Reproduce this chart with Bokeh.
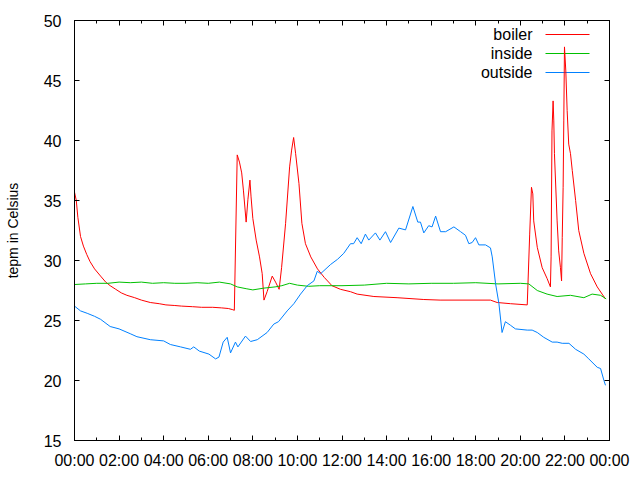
from bokeh.plotting import figure
from bokeh.models import (FixedTicker, LinearAxis, Range1d, Label, Arrow)
from bokeh.embed import file_html
from bokeh.resources import INLINE

# ---------------- data ----------------
x_tick_hours = [0, 2, 4, 6, 8, 10, 12, 14, 16, 18, 20, 22, 24]
x_tick_labels = ["00:00", "02:00", "04:00", "06:00", "08:00", "10:00", "12:00",
                 "14:00", "16:00", "18:00", "20:00", "22:00", "00:00"]
y_ticks = [15, 20, 25, 30, 35, 40, 45, 50]

boiler_h = [0.0, 0.08, 0.15, 0.27, 0.4, 0.55, 0.7, 0.9, 1.17, 1.4, 1.6, 1.85, 2.1, 2.35,
            2.7, 3.0, 3.4, 3.8, 4.1, 4.5, 4.8, 5.3, 5.7, 6.2, 6.6, 6.9, 7.1, 7.17,
            7.3, 7.4, 7.5, 7.58, 7.7, 7.78, 7.87, 7.92, 8.0, 8.15, 8.3, 8.42, 8.5,
            8.64, 8.87, 9.02, 9.18, 9.29, 9.47, 9.65, 9.74, 9.83, 9.92, 10.07, 10.2,
            10.36, 10.6, 10.9, 11.2, 11.55, 11.93, 12.38, 12.68, 13.43, 14.47, 15.67,
            16.4, 18.66, 18.96, 19.56, 20.31, 20.42, 20.5, 20.56, 20.6, 20.76, 20.98,
            21.2, 21.35, 21.38, 21.42, 21.47, 21.5, 21.53, 21.65, 21.72, 21.8, 21.85,
            21.88, 21.92, 21.95, 21.98, 22.04, 22.1, 22.17, 22.25, 22.33, 22.48, 22.62,
            22.85, 23.15, 23.45, 23.67, 23.82]
boiler_t = [35.7, 35.0, 33.6, 32.0, 31.2, 30.5, 29.9, 29.3, 28.7, 28.2, 27.9, 27.6, 27.3, 27.1,
            26.9, 26.7, 26.5, 26.4, 26.3, 26.25, 26.2, 26.15, 26.1, 26.1, 26.05, 26.0, 25.9, 25.85,
            38.8, 38.2, 37.3, 35.8, 33.2, 35.1, 36.7, 35.3, 33.5, 31.7, 30.3, 28.9, 26.7,
            27.4, 28.7, 28.2, 27.6, 29.4, 33.1, 37.8, 39.2, 40.25, 38.9, 36.4, 33.1,
            31.4, 30.3, 29.3, 28.6, 27.9, 27.6, 27.4, 27.2, 27.0, 26.9, 26.75,
            26.7, 26.7, 26.5, 26.4, 26.3, 32.2, 36.1, 35.55, 33.3, 31.1, 29.4,
            28.5, 27.8, 30.3, 40.8, 43.3, 41.7, 38.9, 33.3, 30.8, 29.4, 28.3,
            31.9, 36.1, 41.7, 47.8, 45.8, 42.5, 39.7, 38.9, 37.5, 35.0, 32.5,
            30.6, 28.9, 27.8, 27.2, 26.8]

inside_h = [0, 0.5, 1.0, 1.5, 2.0, 2.5, 3.0, 3.5, 4.0, 4.5, 5.0, 5.5, 6.0, 6.5, 7.0, 7.3,
            7.7, 8.0, 8.5, 9.0, 9.3, 9.65, 10.0, 10.5, 11.0, 12.0, 13.0, 14.0, 15.0,
            16.0, 17.0, 18.0, 19.0, 20.0, 20.38, 20.76, 21.2, 21.65, 22.25, 22.85,
            23.22, 23.6, 23.85]
inside_t = [28.0, 28.05, 28.1, 28.1, 28.2, 28.15, 28.2, 28.1, 28.15, 28.1, 28.1, 28.15, 28.1,
            28.2, 28.05, 27.8, 27.65, 27.55, 27.7, 27.8, 27.9, 28.1, 27.95, 27.85, 27.9,
            27.9, 27.95, 28.1, 28.05, 28.1, 28.1, 28.15, 28.05, 28.1, 28.05, 27.5, 27.2,
            27.0, 27.1, 26.9, 27.2, 27.1, 26.8]

outside_h = [0, 0.27, 0.57, 0.9, 1.17, 1.6, 2.0, 2.5, 2.8, 3.4, 4.0, 4.3, 4.76, 5.2, 5.35,
             5.6, 6.03, 6.33, 6.48, 6.67, 6.85, 7.0, 7.22, 7.33, 7.67, 7.9, 8.2, 8.64,
             8.94, 9.15, 9.54, 9.84, 10.14, 10.44, 10.74, 10.89, 11.04, 11.49, 11.8,
             12.08, 12.38, 12.52, 12.68, 12.86, 13.05, 13.2, 13.5, 13.7, 13.95, 14.18,
             14.55, 14.85, 15.18, 15.4, 15.52, 15.67, 15.89, 16.04, 16.2, 16.42, 16.65,
             17.02, 17.32, 17.54, 17.69, 17.84, 17.99, 18.14, 18.44, 18.66, 18.74,
             18.89, 19.04, 19.18, 19.33, 19.56, 19.78, 20.31, 20.53, 20.76, 21.05,
             21.43, 21.65, 21.88, 22.18, 22.48, 22.85, 23.07, 23.45, 23.6, 23.75, 23.82]
outside_t = [26.2, 25.8, 25.6, 25.35, 25.1, 24.5, 24.3, 23.9, 23.65, 23.4, 23.3, 23.0, 22.8,
             22.6, 22.8, 22.45, 22.2, 21.8, 21.95, 23.2, 23.6, 22.3, 23.2, 22.8, 23.7,
             23.25, 23.4, 24.0, 24.7, 24.9, 25.8, 26.4, 27.2, 27.9, 28.3, 29.1, 28.9,
             29.67, 30.1, 30.6, 31.4, 31.4, 31.9, 31.4, 32.2, 31.7, 32.3, 31.7, 32.4,
             31.5, 32.7, 32.55, 34.5, 33.2, 33.2, 32.3, 32.9, 32.8, 33.7, 32.4, 32.4,
             32.8, 32.4, 32.1, 31.4, 31.5, 31.9, 31.3, 31.3, 31.05, 30.3, 28.06, 26.4,
             24.0, 24.9, 24.6, 24.3, 24.2, 24.2, 24.0, 23.6, 23.2, 23.2, 23.1, 23.1,
             22.6, 22.2, 21.8, 21.1, 21.0, 20.0, 19.6]

series_names = ["boiler", "inside", "outside"]
series_colors = ["#ff0000", "#00c000", "#0080ff"]

FONT = "Liberation Sans"

# ---------------- figure ----------------
p = figure(width=640, height=480, output_backend="svg", toolbar_location=None,
           x_range=Range1d(0, 24), y_range=Range1d(15, 50),
           min_border_left=74, min_border_right=31, min_border_top=20, min_border_bottom=40)
p.background_fill_color = "white"
p.border_fill_color = "white"
p.outline_line_color = "black"
p.outline_line_width = 1
p.xgrid.visible = False
p.ygrid.visible = False

xt = FixedTicker(ticks=x_tick_hours, minor_ticks=[h + 1 for h in x_tick_hours[:-1]])
yt = FixedTicker(ticks=y_ticks, minor_ticks=[])
overrides = {h: lab for h, lab in zip(x_tick_hours, x_tick_labels)}


def style_axis(ax, show_labels=True):
    ax.axis_line_color = "black"
    ax.major_tick_line_color = "black"
    ax.minor_tick_line_color = "black"
    ax.major_tick_in = 5
    ax.major_tick_out = 0
    ax.minor_tick_in = 3
    ax.minor_tick_out = 0
    ax.major_label_text_font = FONT
    ax.major_label_text_font_size = "16px"
    ax.major_label_text_color = "black"
    if not show_labels:
        ax.major_label_text_font_size = "0px"
        ax.major_label_text_alpha = 0


xa = p.xaxis[0]
xa.ticker = xt
xa.major_label_overrides = overrides
style_axis(xa)
xa.major_label_standoff = 11

ya = p.yaxis[0]
ya.ticker = yt
style_axis(ya)
ya.major_label_standoff = 13
ya.axis_label = "tepm in Celsius"
ya.axis_label_text_font = FONT
ya.axis_label_text_font_size = "14px"
ya.axis_label_text_font_style = "normal"
ya.axis_label_text_color = "black"
ya.axis_label_standoff = 20

top = LinearAxis(ticker=xt, major_label_overrides={h: "" for h in x_tick_hours})
style_axis(top, False)
p.add_layout(top, "above")
right = LinearAxis(ticker=yt, major_label_overrides={t: "" for t in y_ticks})
style_axis(right, False)
p.add_layout(right, "right")

# lines
series = [(boiler_h, boiler_t), (inside_h, inside_t), (outside_h, outside_t)]
for (hh, tt), col in zip(series, series_colors):
    p.line(hh, tt, line_color=col, line_width=1)

# gnuplot-style key (label then sample), placed in screen units relative to the frame
key_text_right = 458
key_line_x0, key_line_x1 = 471, 515
key_y0, key_dy = 406, 19
for i, (name, col) in enumerate(zip(series_names, series_colors)):
    yy = key_y0 - i * key_dy
    p.add_layout(Label(x=key_text_right, y=yy, x_units="screen", y_units="screen",
                       text=name, text_align="right", text_baseline="middle",
                       text_font=FONT, text_font_size="16px", text_color="black",
                       level="underlay"))
    p.add_layout(Arrow(x_start=key_line_x0, y_start=yy, x_end=key_line_x1, y_end=yy,
                       start_units="screen", end_units="screen", end=None,
                       line_color=col, line_width=1, level="underlay"))

open("out.html", "w").write(file_html(p, INLINE))
